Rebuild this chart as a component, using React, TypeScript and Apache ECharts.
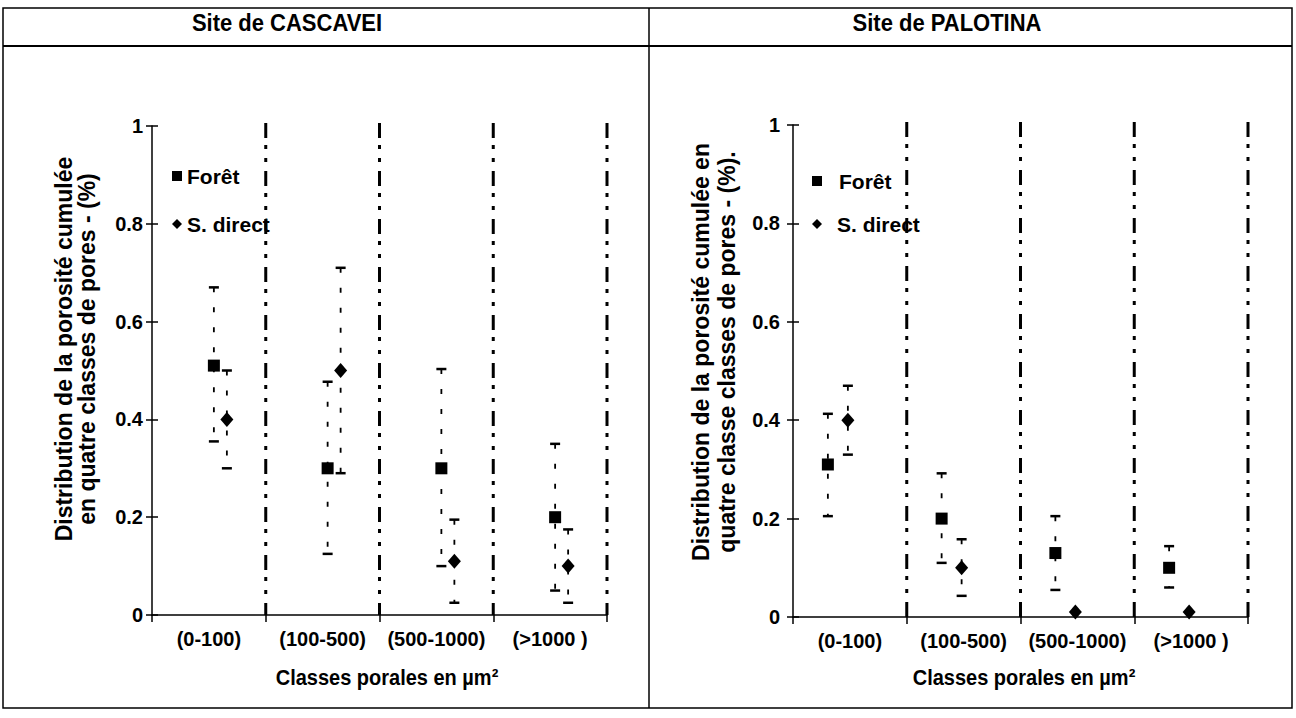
import React, { useEffect, useRef } from "react";
import * as echarts from "echarts";

const categories = ["(0-100)", "(100-500)", "(500-1000)", "(>1000 )"];

// Site de CASCAVEI
const cascForet = [0.51, 0.30, 0.30, 0.20];
const cascForetLow = [0.355, 0.125, 0.10, 0.05];
const cascForetHigh = [0.67, 0.477, 0.503, 0.35];
const cascSD = [0.40, 0.50, 0.11, 0.10];
const cascSDLow = [0.30, 0.29, 0.025, 0.025];
const cascSDHigh = [0.50, 0.71, 0.195, 0.175];

// Site de PALOTINA
const paloForet = [0.31, 0.20, 0.13, 0.10];
const paloForetLow = [0.205, 0.11, 0.055, 0.06];
const paloForetHigh = [0.413, 0.292, 0.205, 0.144];
const paloSD = [0.40, 0.10, 0.01, 0.01];
const paloSDLow: (number | null)[] = [0.33, 0.043, null, null];
const paloSDHigh: (number | null)[] = [0.47, 0.158, null, null];

const FONT = "'Liberation Sans', Arial, Helvetica, sans-serif";

function errData(low: (number | null)[], high: (number | null)[]) {
  const out: number[][] = [];
  low.forEach((l, i) => {
    const h = high[i];
    if (l != null && h != null) out.push([i, l, h]);
  });
  return out;
}

function errSeries(axis: number, low: (number | null)[], high: (number | null)[], offset: number) {
  return {
    type: "custom",
    xAxisIndex: axis,
    yAxisIndex: axis * 2,
    z: 3,
    silent: true,
    data: errData(low, high),
    encode: { x: 0, y: [1, 2] },
    renderItem: (params: any, api: any) => {
      const idx = api.value(0);
      const pLo = api.coord([idx, api.value(1)]);
      const pHi = api.coord([idx, api.value(2)]);
      const x = pLo[0] + offset;
      return {
        type: "group",
        children: [
          { type: "line", shape: { x1: x, y1: pHi[1], x2: x, y2: pLo[1] }, style: { stroke: "#000", lineWidth: 1.8, lineDash: [5, 15] } },
          { type: "line", shape: { x1: x - 5, y1: pHi[1], x2: x + 5, y2: pHi[1] }, style: { stroke: "#000", lineWidth: 2.5 } },
          { type: "line", shape: { x1: x - 5, y1: pLo[1], x2: x + 5, y2: pLo[1] }, style: { stroke: "#000", lineWidth: 2.5 } },
        ],
      };
    },
  };
}

function sepSeries(axis: number) {
  return {
    type: "custom",
    xAxisIndex: axis,
    yAxisIndex: axis * 2,
    z: 1,
    silent: true,
    data: categories.map((_, i) => [i, 0]),
    encode: { x: 0, y: 1 },
    renderItem: (params: any, api: any) => {
      const i = api.value(0);
      const p0 = api.coord([i, 0]);
      const p1 = api.coord([i, 1]);
      const bw = api.size([1, 0])[0];
      const x = p0[0] + bw / 2;
      return {
        type: "line",
        shape: { x1: x, y1: p1[1] - 3, x2: x, y2: p0[1] },
        style: { stroke: "#000", lineWidth: 3, lineDash: [15, 7, 4, 9, 4, 9] },
      };
    },
  };
}

function scatter(name: string, axis: number, data: number[], symbol: string, size: any, offset: number) {
  return {
    type: "scatter",
    name,
    xAxisIndex: axis,
    yAxisIndex: axis * 2,
    z: 4,
    symbol,
    symbolSize: size,
    symbolOffset: [offset, 0],
    itemStyle: { color: "#000", opacity: 1 },
    data,
  };
}

const labelStyle = { color: "#000", fontFamily: FONT, fontWeight: "bold" as const, fontSize: 20 };

function xAxisCfg(grid: number) {
  return {
    type: "category",
    gridIndex: grid,
    data: categories,
    boundaryGap: true,
    axisLine: { lineStyle: { color: "#000", width: 1.5 } },
    axisTick: { show: true, length: 7, alignWithLabel: false, lineStyle: { color: "#000", width: 1.5 } },
    axisLabel: { ...labelStyle, interval: 0, margin: 14 },
    splitLine: { show: false },
  };
}

function yAxisCfgs(grid: number, margin: number) {
  return [
    {
      type: "value",
      gridIndex: grid,
      min: 0,
      max: 1,
      interval: 0.2,
      axisLine: { show: true, lineStyle: { color: "#000", width: 1.5 } },
      axisTick: { show: true, length: 6, lineStyle: { color: "#000", width: 1.5 } },
      axisLabel: { ...labelStyle, margin },
      splitLine: { show: false },
    },
    {
      type: "value",
      gridIndex: grid,
      position: "left",
      min: 0,
      max: 1,
      interval: 0.2,
      axisLine: { show: false },
      axisTick: { show: true, inside: true, length: 6, lineStyle: { color: "#000", width: 1.5 } },
      axisLabel: { show: false },
      splitLine: { show: false },
    },
  ];
}

function legendItem(name: string, icon: string, left: number, top: number, pad: number) {
  return {
    data: [{ name, icon, itemStyle: { color: "#000", opacity: 1 } }],
    left,
    top,
    orient: "vertical",
    itemWidth: 10,
    itemHeight: 10,
    selectedMode: false,
    textStyle: { ...labelStyle, fontSize: 21, lineHeight: 22, padding: [0, 0, 0, pad] },
  };
}

function textG(text: string, x: number, y: number, size: number, rotate = 0, sy = 1) {
  return {
    type: "text",
    x,
    y,
    rotation: rotate,
    scaleY: sy,
    style: { text, fill: "#000", font: `bold ${size}px ${FONT}`, align: "center", verticalAlign: "middle" },
  };
}

export default function App() {
  const ref = useRef<HTMLDivElement>(null);
  useEffect(() => {
    if (!ref.current) return;
    const chart = echarts.init(ref.current, null, { renderer: "svg" });
    const R = Math.PI / 2;
    chart.setOption({
      animation: false,
      backgroundColor: "#fff",
      grid: [
        { left: 152, top: 126, width: 455, height: 489 },
        { left: 793, top: 125, width: 455, height: 492 },
      ],
      xAxis: [xAxisCfg(0), xAxisCfg(1)],
      yAxis: [...yAxisCfgs(0, 9), ...yAxisCfgs(1, 13)],
      legend: [
        legendItem("Forêt", "rect", 167, 160, 0),
        legendItem("S. direct", "diamond", 167, 208, 0),
        legendItem("Forêt", "rect", 807, 165, 12),
        legendItem("S. direct", "diamond", 807, 208, 10),
      ],
      series: [
        sepSeries(0),
        sepSeries(1),
        errSeries(0, cascForetLow, cascForetHigh, 5),
        errSeries(0, cascSDLow, cascSDHigh, 18),
        errSeries(1, paloForetLow, paloForetHigh, -22),
        errSeries(1, paloSDLow, paloSDHigh, -2),
        scatter("Forêt", 0, cascForet, "rect", 12, 5),
        scatter("S. direct", 0, cascSD, "diamond", [13, 15], 18),
        scatter("Forêt", 1, paloForet, "rect", 12, -22),
        scatter("S. direct", 1, paloSD, "diamond", [13, 15], -2),
      ],
      graphic: [
        { type: "rect", shape: { x: 3, y: 8, width: 1289, height: 700 }, style: { fill: "none", stroke: "#000", lineWidth: 1.5 }, silent: true },
        { type: "line", shape: { x1: 3, y1: 46, x2: 1292, y2: 46 }, style: { stroke: "#000", lineWidth: 2 }, silent: true },
        { type: "line", shape: { x1: 649, y1: 8, x2: 649, y2: 708 }, style: { stroke: "#000", lineWidth: 1.5 }, silent: true },
        textG("Site de CASCAVEI", 287, 23, 22, 0, 1.12),
        textG("Site de PALOTINA", 947, 23, 22, 0, 1.12),
        textG("Distribution de la porosité cumulée", 64, 349, 23, R),
        textG("en quatre classes de pores - (%)", 87, 349, 23, R),
        textG("Distribution de la porosité cumulée en", 701, 352, 23, R),
        textG("quatre classe classes de pores - (%).", 727, 352, 23, R),
        textG("Classes porales en µm²", 387, 677, 20, 0, 1.12),
        textG("Classes porales en µm²", 1024, 677, 20, 0, 1.12),
      ],
    });
    return () => chart.dispose();
  }, []);
  return <div ref={ref} style={{ position: "fixed", left: 0, top: 0, width: 1296, height: 718 }} />;
}
